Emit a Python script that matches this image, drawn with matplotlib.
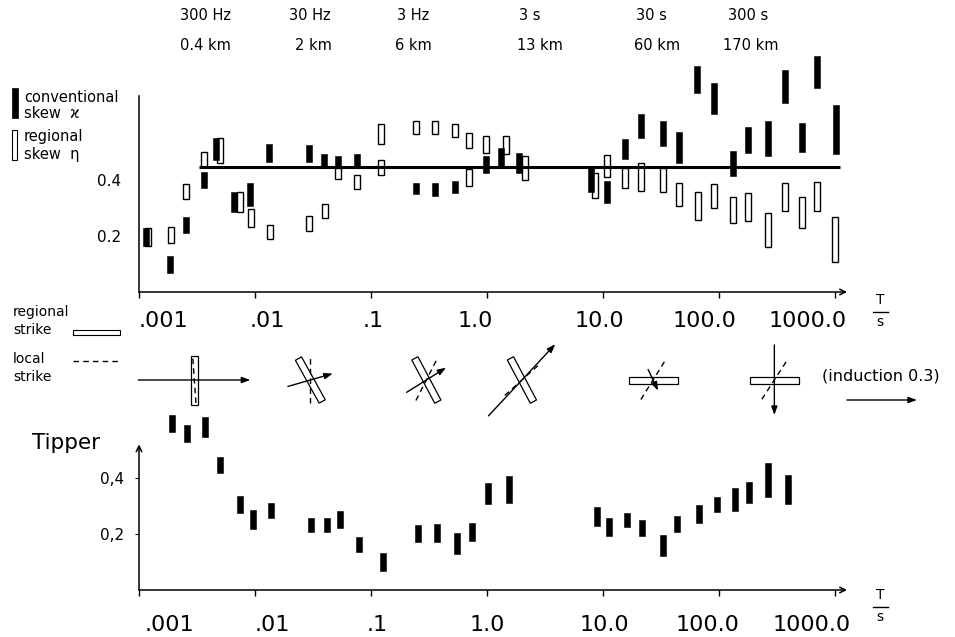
import numpy as np
import matplotlib
matplotlib.use("Agg")
import matplotlib.pyplot as plt
from matplotlib.patches import Polygon, Rectangle
from matplotlib.ticker import NullLocator

plt.rcParams["font.family"] = ["DejaVu Sans"]

# conventional skew kappa (filled bars): period in s, lower / upper bound
kappa_T = [0.00115, 0.00185, 0.00254, 0.00363, 0.0046, 0.0066, 0.00906, 0.0132,
           0.0292, 0.0394, 0.052, 0.0757, 0.244, 0.356, 0.53, 0.98, 1.32, 1.89,
           7.89, 10.8, 15.5, 21.3, 32.9, 45.2, 64.6, 90.6, 132, 178, 264, 370,
           519, 700, 1020]
kappa_lo = [0.164, 0.068, 0.211, 0.37, 0.47, 0.286, 0.307, 0.464,
            0.464, 0.446, 0.443, 0.446, 0.35, 0.343, 0.354, 0.425, 0.45, 0.425,
            0.357, 0.318, 0.475, 0.55, 0.521, 0.461, 0.711, 0.636, 0.414, 0.496,
            0.486, 0.675, 0.50, 0.729, 0.493]
kappa_hi = [0.229, 0.129, 0.268, 0.43, 0.55, 0.357, 0.389, 0.529,
            0.525, 0.493, 0.486, 0.493, 0.389, 0.389, 0.396, 0.486, 0.514, 0.496,
            0.443, 0.396, 0.546, 0.636, 0.61, 0.571, 0.807, 0.746, 0.504, 0.589,
            0.61, 0.793, 0.604, 0.843, 0.668]

# regional skew eta (open bars)
eta_T = [0.0012, 0.00189, 0.00254, 0.00363, 0.005, 0.0074, 0.0093, 0.0135,
         0.0292, 0.040, 0.052, 0.0757, 0.122, 0.122, 0.244, 0.356, 0.53, 0.70,
         0.70, 0.98, 1.46, 2.13, 8.54, 10.8, 15.5, 21.3, 32.9, 45.2, 66,
         90.6, 132, 178, 264, 370, 519, 700, 1000]
eta_lo = [0.165, 0.175, 0.332, 0.446, 0.46, 0.286, 0.232, 0.189,
          0.218, 0.264, 0.404, 0.368, 0.529, 0.418, 0.564, 0.564, 0.554, 0.514,
          0.379, 0.496, 0.493, 0.40, 0.336, 0.411, 0.371, 0.361, 0.357, 0.307, 0.257,
          0.30, 0.246, 0.254, 0.161, 0.289, 0.228, 0.289, 0.107]
eta_hi = [0.23, 0.232, 0.386, 0.50, 0.55, 0.357, 0.296, 0.239,
          0.271, 0.314, 0.443, 0.418, 0.60, 0.471, 0.61, 0.61, 0.60, 0.568,
          0.439, 0.557, 0.557, 0.486, 0.425, 0.489, 0.443, 0.461, 0.443, 0.389, 0.357,
          0.386, 0.339, 0.354, 0.282, 0.389, 0.339, 0.393, 0.268]

skew_level = 0.445
skew_level_span = [0.0033, 1100]

# tipper magnitude
tip_T = [0.00192, 0.00259, 0.00371, 0.00499, 0.00743, 0.00962, 0.01374, 0.0304,
         0.0418, 0.0541, 0.0789, 0.127, 0.254, 0.371, 0.551, 0.743, 1.02, 1.55,
         8.87, 11.3, 16.1, 21.7, 32.9, 43.5, 67.3, 96.2, 137, 182, 264, 394]
tip_lo = [0.564, 0.529, 0.546, 0.418, 0.275, 0.218, 0.257, 0.207,
          0.207, 0.221, 0.136, 0.068, 0.171, 0.171, 0.129, 0.175, 0.307, 0.311,
          0.229, 0.193, 0.225, 0.193, 0.121, 0.207, 0.239, 0.279, 0.282, 0.311, 0.332, 0.307]
tip_hi = [0.625, 0.589, 0.618, 0.475, 0.336, 0.286, 0.311, 0.257,
          0.257, 0.282, 0.189, 0.132, 0.232, 0.236, 0.204, 0.239, 0.382, 0.407,
          0.296, 0.257, 0.275, 0.25, 0.196, 0.264, 0.304, 0.332, 0.364, 0.386, 0.454, 0.411]

# strike / induction diagrams
strike_T = [0.003, 0.03, 0.3, 2.0, 27, 300]
regional_strike = [0, -29, -28, -28, 90, 90]     # deg clockwise from north
local_strike = [-4, 0, 27, 48, 32, 33]
induction_mag = [0.48, 0.20, 0.20, 0.42, 0.10, 0.30]
induction_dir = [0, 16, 32, 47, -65, -90]         # deg counter-clockwise from east
induction_ref = 0.3

decades = [1e-3, 1e-2, 1e-1, 1, 10, 100, 1000]
decade_labels = [".001", ".01", ".1", "1.0", "10.0", "100.0", "1000.0"]
upper_label_T = [0.00161, 0.0127, 0.104, 0.79, 9.25, 75.7, 585]
lower_label_T = [0.00182, 0.014, 0.113, 1.0, 10.2, 80.3, 634]

freq_labels = ["300 Hz", "30 Hz", "3 Hz", "3 s", "30 s", "300 s"]
depth_labels = ["0.4 km", "2 km", "6 km", "13 km", "60 km", "170 km"]
freq_x = [205, 310, 413, 530, 651, 748]
depth_x = [205, 313, 413, 540, 657, 751]

W, H = 955, 637
DEC = 116.0          # pixels per decade
X0, AXW = 139, 708
PX_PER_UNIT = 280.0
fig = plt.figure(figsize=(W / 100, H / 100), dpi=100)


def px_axes(left, bottom, width, height):
    return fig.add_axes([left / W, (H - bottom) / H, width / W, height / H])


ax1 = px_axes(X0, 292, AXW, 0.86 * PX_PER_UNIT)
ax1.set_ylim(0, 0.86)
ax2 = px_axes(X0, 590, AXW, 0.66 * PX_PER_UNIT)
ax2.set_ylim(0, 0.66)

hw = 3.0 / DEC


def bars(ax, T, lo, hi, filled):
    T, lo, hi = np.asarray(T), np.asarray(lo), np.asarray(hi)
    ax.bar(T * 10 ** -hw, hi - lo, width=T * (10 ** hw - 10 ** -hw), bottom=lo,
           align="edge", color="black" if filled else "white",
           edgecolor="black", linewidth=0.4 if filled else 1.0, clip_on=False)


for ax in (ax1, ax2):
    ax.set_xscale("log")
    ax.set_xlim(1e-3, 10 ** (-3 + AXW / DEC))
    ax.patch.set_visible(False)
    for s in ("top", "right", "bottom"):
        ax.spines[s].set_visible(False)
    ax.spines["left"].set_linewidth(1.1)
    ax.xaxis.set_minor_locator(NullLocator())
    ax.set_xticks(decades)
    ax.set_xticklabels([])
    ax.tick_params(axis="x", direction="out", length=4, width=1)
    ax.annotate("", xy=(1, 0), xytext=(0, 0), xycoords="axes fraction",
                arrowprops=dict(arrowstyle="->", lw=1.1, shrinkA=0, shrinkB=0))

ax1.spines["left"].set_bounds(0, 0.7)
ax1.set_yticks([0.2, 0.4])
ax1.set_yticklabels(["0.2", "0.4"], fontsize=11)
ax1.tick_params(axis="y", length=0, pad=13)

ax2.spines["left"].set_visible(False)
ax2.annotate("", xy=(0, 0.52), xytext=(0, 0), xycoords=ax2.get_yaxis_transform(),
             arrowprops=dict(arrowstyle="->", lw=1.1, shrinkA=0, shrinkB=0))
ax2.set_yticks([0.2, 0.4])
ax2.set_yticklabels(["0,2", "0,4"], fontsize=11)
ax2.tick_params(axis="y", direction="out", length=3, pad=8)

bars(ax1, eta_T, eta_lo, eta_hi, False)
bars(ax1, kappa_T, kappa_lo, kappa_hi, True)
ax1.hlines(skew_level, *skew_level_span, color="black", lw=2.2)
bars(ax2, tip_T, tip_lo, tip_hi, True)

# overlay in pixel coordinates for annotations and strike diagrams
ov = fig.add_axes([0, 0, 1, 1])
ov.set_xlim(0, W)
ov.set_ylim(H, 0)
ov.axis("off")


def to_px(ax, T, v=0.0):
    d = ax.transData.transform((T, v))
    return d[0], H - d[1]


for T, lab in zip(upper_label_T, decade_labels):
    x, y = to_px(ax1, T)
    ov.text(x, y + 29, lab, ha="center", va="center", fontsize=16)
for T, lab in zip(lower_label_T, decade_labels):
    x, y = to_px(ax2, T)
    ov.text(x, y + 35, lab, ha="center", va="center", fontsize=16)

for x, lab in zip(freq_x, freq_labels):
    ov.text(x, 16, lab, ha="center", va="center", fontsize=10.5)
for x, lab in zip(depth_x, depth_labels):
    ov.text(x, 45, lab, ha="center", va="center", fontsize=10.5)

# T/s unit labels
for yt in (300, 595):
    ov.text(880, yt, "T", ha="center", va="center", fontsize=10)
    ov.plot([873, 888], [yt + 12, yt + 12], color="black", lw=1)
    ov.text(880, yt + 22, "s", ha="center", va="center", fontsize=10)

# skew legend
ov.add_patch(Rectangle((12, 88), 6, 30, fc="black", ec="black", lw=0.5))
ov.add_patch(Rectangle((12, 130), 5, 30, fc="white", ec="black", lw=0.8))
ov.text(24, 97, "conventional", va="center", fontsize=10.5)
ov.text(24, 114, "skew  ϰ", va="center", fontsize=10.5)
ov.text(24, 137, "regional", va="center", fontsize=10.5)
ov.text(24, 155, "skew  η", va="center", fontsize=10.5)

# strike legend
ov.text(13, 312, "regional", va="center", fontsize=10)
ov.text(13, 330, "strike", va="center", fontsize=10)
ov.add_patch(Rectangle((73, 330), 47, 5, fc="white", ec="black", lw=0.8))
ov.text(13, 359, "local", va="center", fontsize=10)
ov.text(13, 377, "strike", va="center", fontsize=10)
ov.plot([73, 120], [361, 361], color="black", lw=1, dashes=(4, 3))

ov.text(32, 443, "Tipper", va="center", fontsize=15.5)

# strike diagrams
ROW_Y = 380
RECT_L, RECT_W, DASH_L = 49, 7, 46
IND_SCALE = 70 / induction_ref   # px per tipper unit
for T, rs, ls, mag, ang in zip(strike_T, regional_strike, local_strike,
                               induction_mag, induction_dir):
    cx, _ = to_px(ax1, T)
    c = np.array([cx, ROW_Y])
    th = np.radians(rs)
    u = np.array([np.sin(th), -np.cos(th)])
    p = np.array([np.cos(th), np.sin(th)])
    corners = [c + u * RECT_L / 2 + p * RECT_W / 2, c + u * RECT_L / 2 - p * RECT_W / 2,
               c - u * RECT_L / 2 - p * RECT_W / 2, c - u * RECT_L / 2 + p * RECT_W / 2]
    ov.add_patch(Polygon(corners, closed=True, fc="white", ec="black", lw=0.9, zorder=2))
    tl = np.radians(ls)
    ul = np.array([np.sin(tl), -np.cos(tl)])
    a, b = c - ul * DASH_L / 2, c + ul * DASH_L / 2
    ov.plot([a[0], b[0]], [a[1], b[1]], color="black", lw=1, dashes=(4, 3), zorder=3)
    ta = np.radians(ang)
    v = np.array([np.cos(ta), -np.sin(ta)]) * mag * IND_SCALE / 2
    ov.annotate("", xy=tuple(c + v), xytext=tuple(c - v),
                arrowprops=dict(arrowstyle="-|>,head_length=0.5,head_width=0.18",
                                lw=1, color="black", shrinkA=0, shrinkB=0), zorder=4)

# induction reference arrow
ov.text(822, 376, "(induction 0.3)", va="center", fontsize=11.5)
ov.annotate("", xy=(847 + induction_ref * IND_SCALE, 400), xytext=(847, 400),
            arrowprops=dict(arrowstyle="-|>,head_length=0.5,head_width=0.18",
                            lw=1, color="black", shrinkA=0, shrinkB=0))

fig.savefig("out.png", dpi=100)
